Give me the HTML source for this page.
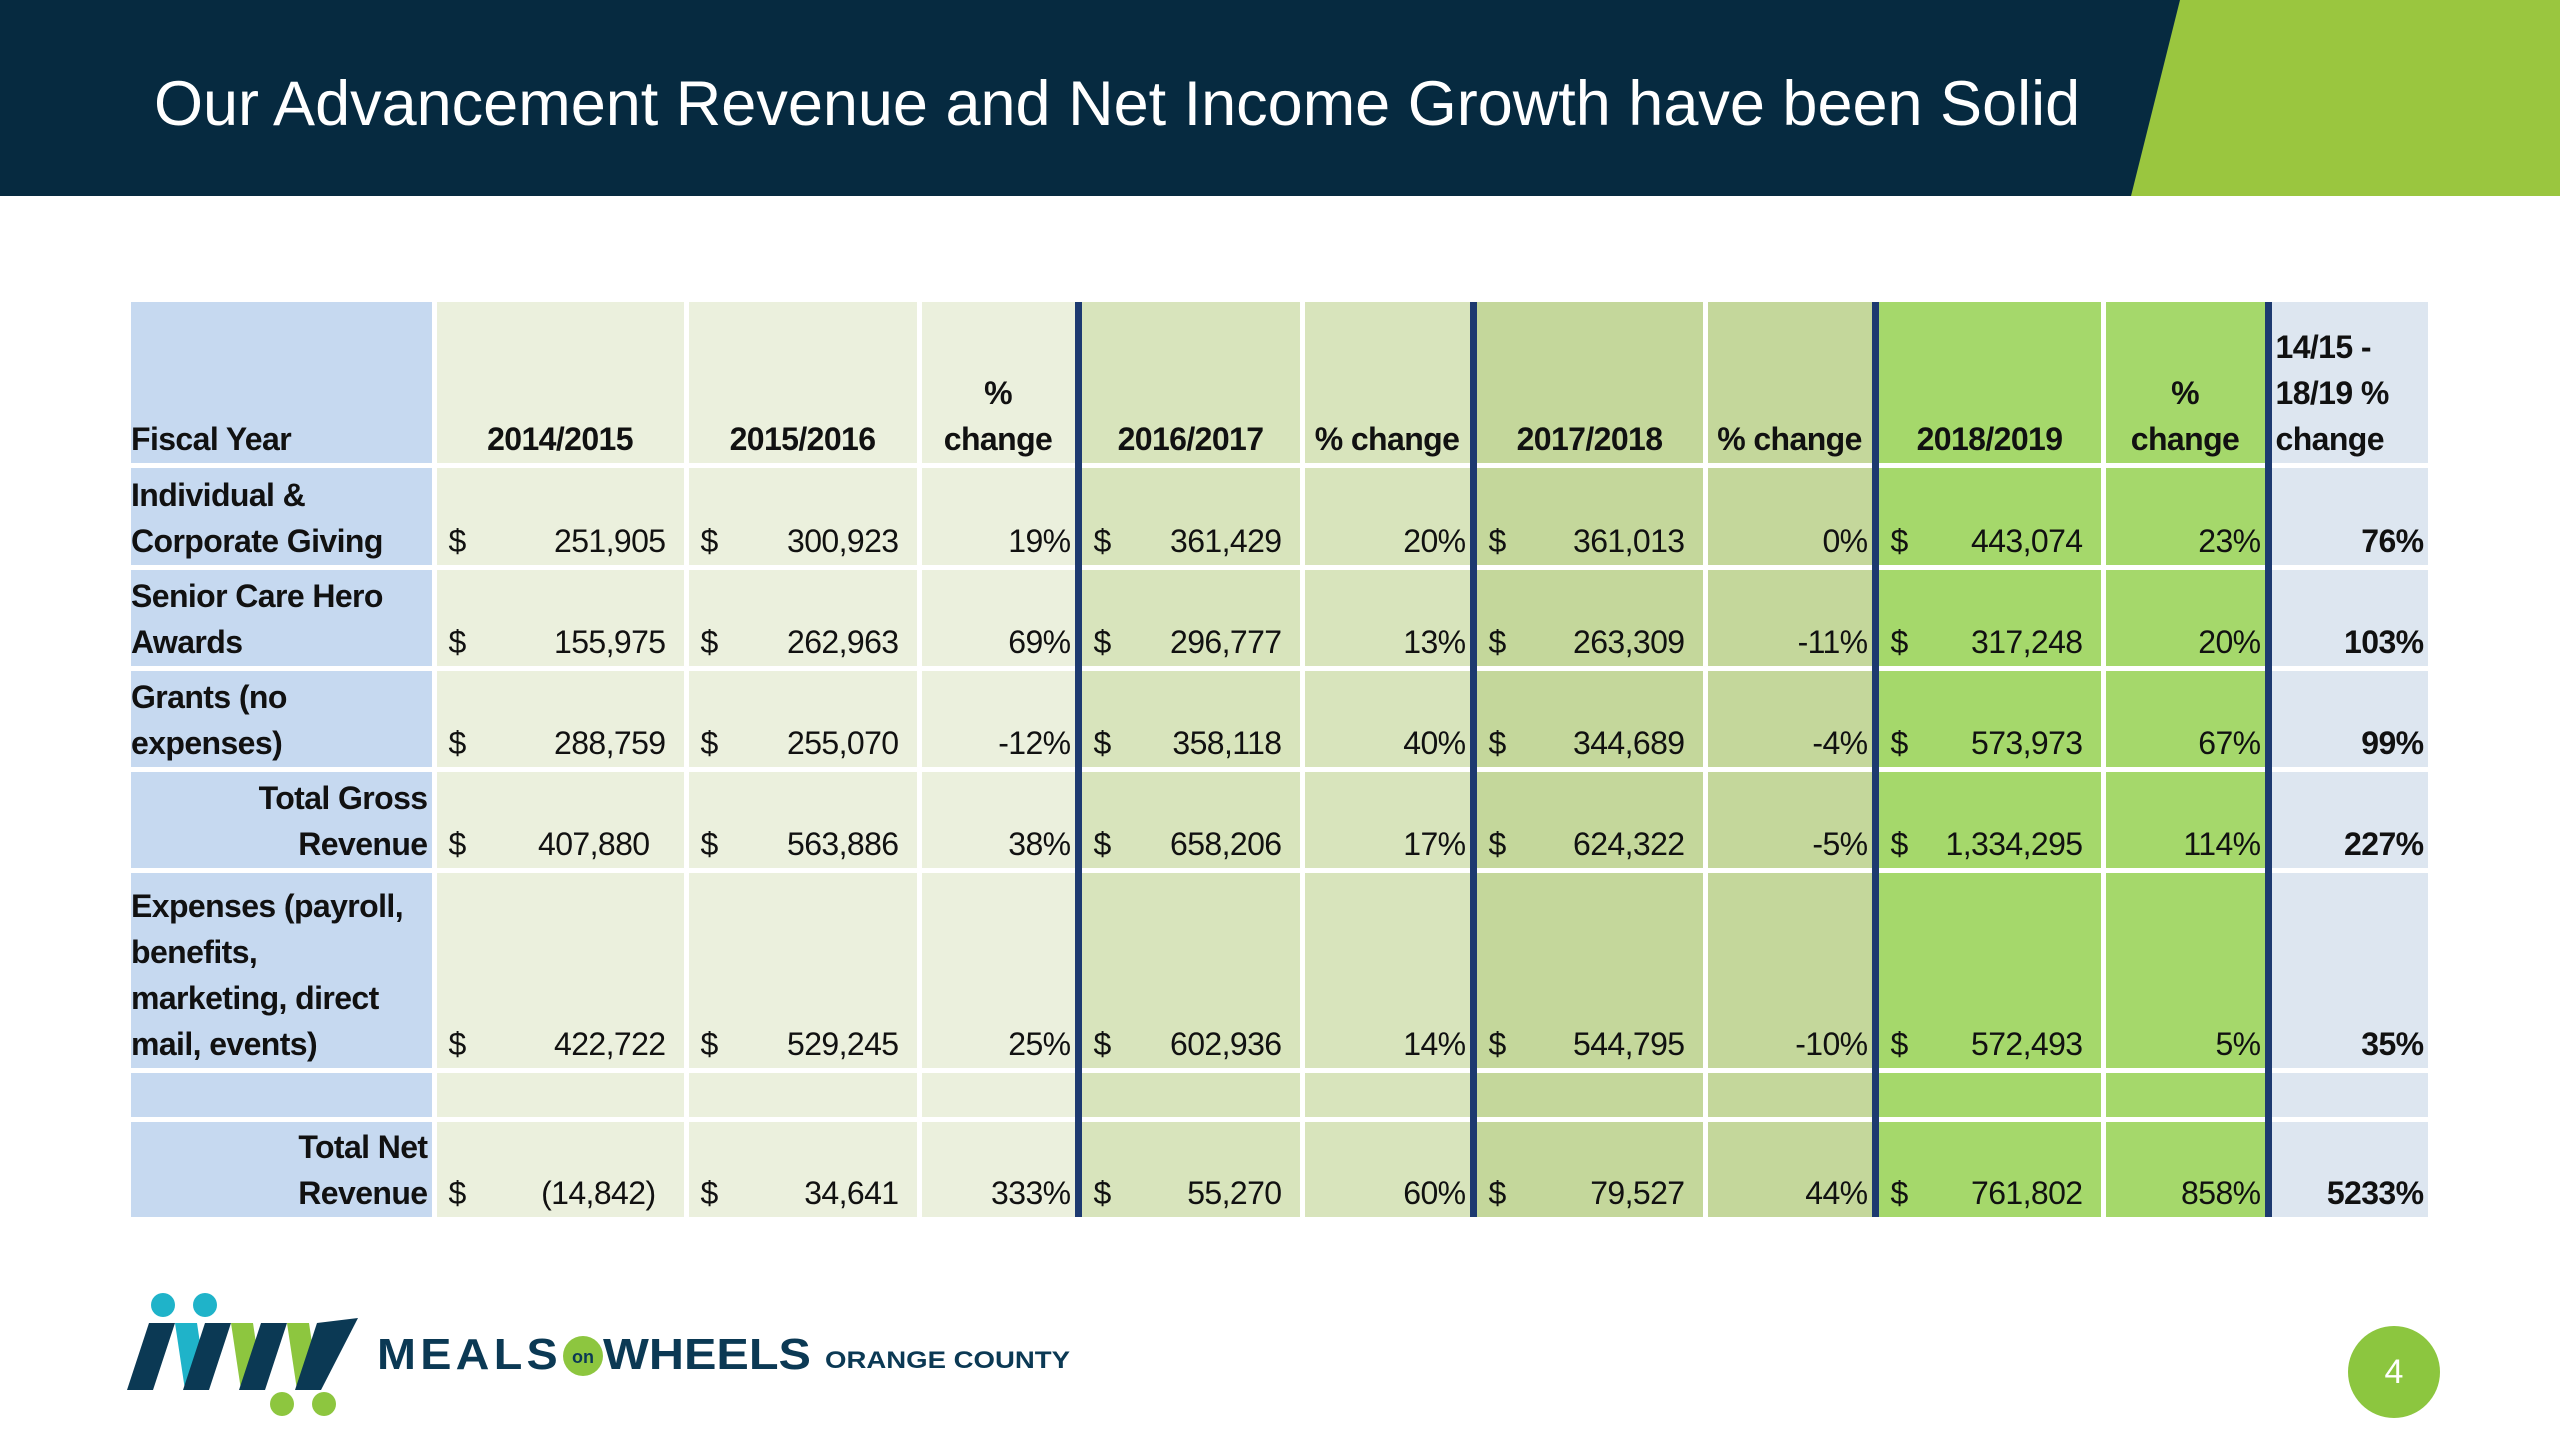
<!DOCTYPE html>
<html><head><meta charset="utf-8">
<style>
body{margin:0;width:2560px;height:1440px;background:#fff;position:relative;overflow:hidden;font-family:"Liberation Sans",sans-serif;}
#hdr{position:absolute;left:0;top:0;width:2560px;height:196px;background:#062a40;}
#hdrgreen{position:absolute;left:0;top:0;width:2560px;height:196px;background:#9ac63f;clip-path:polygon(2180px 0,2560px 0,2560px 196px,2131px 196px);}
#title{position:absolute;left:154px;top:68px;font-family:"Liberation Sans",sans-serif;font-size:63px;color:#fff;white-space:nowrap;}
table{position:absolute;left:131px;top:302px;border-collapse:collapse;table-layout:fixed;width:2299px;}
td{font-size:32px;letter-spacing:-0.6px;line-height:46px;color:#111;vertical-align:bottom;padding:0 4px 1px 4px;border-right:5px solid #fff;border-bottom:5px solid #fff;box-sizing:border-box;white-space:nowrap;overflow:hidden;}
td.l{background:#c6d9f0;font-weight:bold;text-align:left;padding-left:0;}
td.r{text-align:right;}
td.b{font-weight:bold}
.a{background:#ebf0dd}.c{background:#d8e4bc}.d{background:#c4d79b}.e{background:#a5d86b}.f{background:#dde6f0}
.k{border-left:7px solid #1d3a70;}
td.h{font-weight:bold;text-align:center;}
.dl{float:left;padding-left:8px}
.num{text-align:right;padding-right:14px}
#logo{position:absolute;left:125px;top:1290px;}
#pg{position:absolute;left:2348px;top:1326px;width:92px;height:92px;border-radius:50%;background:#8cc63f;color:#fff;font-family:"Liberation Sans",sans-serif;font-size:34px;line-height:92px;text-align:center;}
</style></head><body>
<div id="hdr"></div>
<div id="hdrgreen"></div>
<div id="title">Our Advancement Revenue and Net Income Growth have been Solid</div>

<table>
<colgroup><col style="width:303px"><col style="width:252px"><col style="width:233px"><col style="width:159px"><col style="width:224px"><col style="width:171px"><col style="width:232px"><col style="width:170px"><col style="width:228px"><col style="width:165px"><col style="width:162px"></colgroup>
<tr style="height:163px">
<td class="l">Fiscal Year</td>
<td class="a h">2014/2015</td><td class="a h">2015/2016</td><td class="a h">%<br>change</td>
<td class="c h k">2016/2017</td><td class="c h">% change</td>
<td class="d h k">2017/2018</td><td class="d h">% change</td>
<td class="e h k">2018/2019</td><td class="e h">%<br>change</td>
<td class="f k" style="font-weight:bold;text-align:left">14/15 -<br>18/19 %<br>change</td></tr>

<tr style="height:102px">
<td class="l">Individual &amp;<br>Corporate Giving</td>
<td class="a"><span class="dl">$</span><div class="num">251,905</div></td>
<td class="a"><span class="dl">$</span><div class="num">300,923</div></td>
<td class="a r">19%</td>
<td class="c k"><span class="dl">$</span><div class="num">361,429</div></td><td class="c r">20%</td>
<td class="d k"><span class="dl">$</span><div class="num">361,013</div></td><td class="d r">0%</td>
<td class="e k"><span class="dl">$</span><div class="num">443,074</div></td><td class="e r">23%</td>
<td class="f k r b">76%</td></tr>

<tr style="height:101px">
<td class="l">Senior Care Hero<br>Awards</td>
<td class="a"><span class="dl">$</span><div class="num">155,975</div></td>
<td class="a"><span class="dl">$</span><div class="num">262,963</div></td>
<td class="a r">69%</td>
<td class="c k"><span class="dl">$</span><div class="num">296,777</div></td><td class="c r">13%</td>
<td class="d k"><span class="dl">$</span><div class="num">263,309</div></td><td class="d r">-11%</td>
<td class="e k"><span class="dl">$</span><div class="num">317,248</div></td><td class="e r">20%</td>
<td class="f k r b">103%</td></tr>

<tr style="height:101px">
<td class="l">Grants (no<br>expenses)</td>
<td class="a"><span class="dl">$</span><div class="num">288,759</div></td>
<td class="a"><span class="dl">$</span><div class="num">255,070</div></td>
<td class="a r">-12%</td>
<td class="c k"><span class="dl">$</span><div class="num">358,118</div></td><td class="c r">40%</td>
<td class="d k"><span class="dl">$</span><div class="num">344,689</div></td><td class="d r">-4%</td>
<td class="e k"><span class="dl">$</span><div class="num">573,973</div></td><td class="e r">67%</td>
<td class="f k r b">99%</td></tr>

<tr style="height:101px">
<td class="l" style="text-align:right">Total Gross<br>Revenue</td>
<td class="a"><span class="dl">$</span><div class="num" style="padding-right:30px">407,880</div></td>
<td class="a"><span class="dl">$</span><div class="num">563,886</div></td>
<td class="a r">38%</td>
<td class="c k"><span class="dl">$</span><div class="num">658,206</div></td><td class="c r">17%</td>
<td class="d k"><span class="dl">$</span><div class="num">624,322</div></td><td class="d r">-5%</td>
<td class="e k"><span class="dl">$</span><div class="num">1,334,295</div></td><td class="e r">114%</td>
<td class="f k r b">227%</td></tr>

<tr style="height:200px">
<td class="l">Expenses (payroll,<br>benefits,<br>marketing, direct<br>mail, events)</td>
<td class="a"><span class="dl">$</span><div class="num">422,722</div></td>
<td class="a"><span class="dl">$</span><div class="num">529,245</div></td>
<td class="a r">25%</td>
<td class="c k"><span class="dl">$</span><div class="num">602,936</div></td><td class="c r">14%</td>
<td class="d k"><span class="dl">$</span><div class="num">544,795</div></td><td class="d r">-10%</td>
<td class="e k"><span class="dl">$</span><div class="num">572,493</div></td><td class="e r">5%</td>
<td class="f k r b">35%</td></tr>

<tr style="height:49px">
<td class="l"></td><td class="a"></td><td class="a"></td><td class="a"></td><td class="c k"></td><td class="c"></td><td class="d k"></td><td class="d"></td><td class="e k"></td><td class="e"></td><td class="f k"></td></tr>

<tr style="height:98px">
<td class="l" style="text-align:right;border-bottom:0">Total Net<br>Revenue</td>
<td class="a" style="border-bottom:0"><span class="dl">$</span><div class="num" style="padding-right:24px">(14,842)</div></td>
<td class="a" style="border-bottom:0"><span class="dl">$</span><div class="num">34,641</div></td>
<td class="a r" style="border-bottom:0">333%</td>
<td class="c k" style="border-bottom:0"><span class="dl">$</span><div class="num">55,270</div></td><td class="c r" style="border-bottom:0">60%</td>
<td class="d k" style="border-bottom:0"><span class="dl">$</span><div class="num">79,527</div></td><td class="d r" style="border-bottom:0">44%</td>
<td class="e k" style="border-bottom:0"><span class="dl">$</span><div class="num">761,802</div></td><td class="e r" style="border-bottom:0">858%</td>
<td class="f k r b" style="border-bottom:0">5233%</td></tr>
</table>

<svg id="logo" width="960" height="130" viewBox="0 0 960 130">
<circle cx="38" cy="15" r="12" fill="#1fb3c9"/><circle cx="80" cy="15" r="12" fill="#1fb3c9"/>
<polygon points="2,100 24,33 50,33 28,100" fill="#0b3954"/>
<polygon points="50,33 72,33 82,100 60,100" fill="#1fb3c9"/>
<polygon points="58,100 80,33 106,33 84,100" fill="#0b3954"/>
<polygon points="106,33 128,33 138,100 116,100" fill="#8dc63f"/>
<polygon points="114,100 136,33 162,33 140,100" fill="#0b3954"/>
<polygon points="162,33 184,33 194,100 172,100" fill="#8dc63f"/>
<polygon points="170,100 192,33 233,28 196,100" fill="#0b3954"/>
<circle cx="157" cy="114" r="12" fill="#8dc63f"/><circle cx="199" cy="114" r="12" fill="#8dc63f"/>
<text x="252" y="79" font-family="Liberation Sans, sans-serif" font-weight="bold" font-size="44" fill="#0b3954" letter-spacing="4" textLength="185" lengthAdjust="spacingAndGlyphs">MEALS</text>
<circle cx="458" cy="66" r="20" fill="#8dc63f"/>
<text x="458" y="73" text-anchor="middle" font-family="Liberation Sans, sans-serif" font-weight="bold" font-size="18" fill="#0b3954">on</text>
<text x="478" y="79" font-family="Liberation Sans, sans-serif" font-weight="bold" font-size="44" fill="#0b3954" textLength="208" lengthAdjust="spacingAndGlyphs">WHEELS</text>
<text x="700" y="78" font-family="Liberation Sans, sans-serif" font-weight="bold" font-size="24" fill="#0b3954" textLength="245" lengthAdjust="spacingAndGlyphs">ORANGE COUNTY</text>
</svg>

<div id="pg">4</div>
</body></html>
